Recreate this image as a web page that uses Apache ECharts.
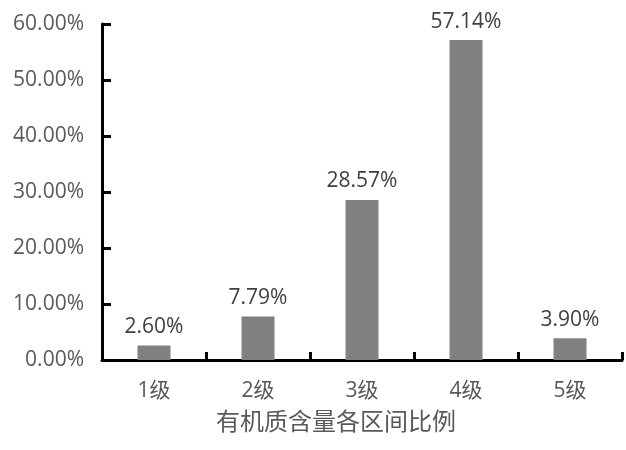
<!DOCTYPE html>
<html>
<head>
<meta charset="utf-8">
<script src="https://cdn.jsdelivr.net/npm/echarts@6/dist/echarts.min.js"></script>
<style>
  html, body { margin: 0; padding: 0; background: #fff; }
  #chart { width: 626px; height: 450px; }
</style>
</head>
<body>
<div id="chart"></div>
<script>
// Share of samples in each organic-matter grade (percent)
const categories = ['1级', '2级', '3级', '4级', '5级'];
const shares = [2.60, 7.79, 28.57, 57.14, 3.90];
const axisTitle = '有机质含量各区间比例';

const font = '"Open Sans", "Noto Sans CJK SC", sans-serif';
const chart = echarts.init(document.getElementById('chart'), null, { renderer: 'canvas' });

chart.setOption({
  animation: false,
  grid: { left: 102, right: 4, top: 24, bottom: 90, containLabel: false },
  xAxis: {
    type: 'category',
    data: categories,
    name: axisTitle,
    nameLocation: 'middle',
    nameGap: 51,
    nameTextStyle: {
      color: '#595959', fontSize: 24, fontFamily: font,
      padding: [0, 52, 0, 0]   // nudge the title a little left of the plot centre
    },
    axisLine: { lineStyle: { color: '#000', width: 3 } },
    axisTick: { show: true, inside: true, length: 8, lineStyle: { color: '#000', width: 3 } },
    axisLabel: { color: '#595959', fontSize: 21, fontFamily: font, margin: 21 }
  },
  yAxis: {
    type: 'value',
    min: 0,
    max: 60,
    interval: 10,
    axisLine: { show: true, lineStyle: { color: '#000', width: 3 } },
    axisTick: { show: true, inside: true, length: 9, lineStyle: { color: '#000', width: 3 } },
    splitLine: { show: false },
    axisLabel: {
      color: '#595959', fontSize: 21, fontFamily: font, margin: 18,
      formatter: v => v.toFixed(2) + '%'
    }
  },
  series: [{
    type: 'bar',
    data: shares,
    barWidth: 33,
    itemStyle: { color: '#808080' },
    label: {
      show: true,
      position: 'top',
      distance: 8,
      color: '#404040',
      fontSize: 21,
      fontFamily: font,
      formatter: p => p.value.toFixed(2) + '%'
    }
  }]
});
</script>
</body>
</html>
